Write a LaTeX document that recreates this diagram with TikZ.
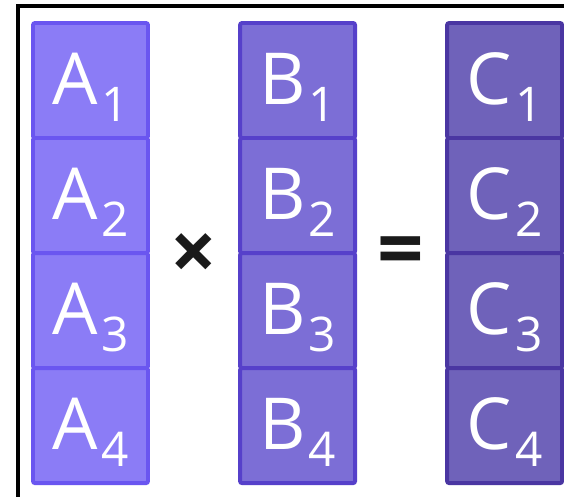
\documentclass[tikz,border=0pt]{standalone}
\usepackage{fontspec}
\setmainfont{Open Sans}
\usetikzlibrary{positioning}
\definecolor{afill}{RGB}{139,124,246}
\definecolor{adraw}{RGB}{106,86,240}
\definecolor{bfill}{RGB}{124,110,214}
\definecolor{bdraw}{RGB}{86,64,202}
\definecolor{cfill}{RGB}{111,98,186}
\definecolor{cdraw}{RGB}{74,54,162}
\definecolor{opblack}{RGB}{26,26,26}
\newcommand{\vecsub}[2]{#1\kern0.08cm\raisebox{-0.42cm}{\fontsize{34pt}{34pt}\selectfont #2}}
\tikzset{
  cell/.style={draw,rectangle,line width=2.8pt,rounded corners=1.5pt,minimum width=2.875cm,minimum height=2.875cm,
    inner sep=0pt,outer sep=0pt,text=white,font=\fontsize{51pt}{51pt}\selectfont,text height=1.3cm,text depth=0.1cm},
  acell/.style={cell,fill=afill,draw=adraw},
  bcell/.style={cell,fill=bfill,draw=bdraw},
  ccell/.style={cell,fill=cfill,draw=cdraw},
  op/.style={text=opblack,font=\fontsize{58pt}{58pt}\selectfont\bfseries,yshift=-3pt}
}
\begin{document}
\begin{tikzpicture}[x=0.025cm,y=-0.025cm]
  \useasboundingbox (0,0) rectangle (564,496);
  \clip (0,0) rectangle (564,496);
  \draw[line width=2.6pt] (18,6) rectangle (620,560);

  % left vector
  \node[acell] (a1) at (90.5,80.5) {\vecsub{A}{1}};
  \node[acell, below=0pt of a1] (a2) {\vecsub{A}{2}};
  \node[acell, below=0pt of a2] (a3) {\vecsub{A}{3}};
  \node[acell, below=0pt of a3] (a4) {\vecsub{A}{4}};

  % middle vector
  \node[bcell, right=2.3cm of a1] (b1) {\vecsub{B}{1}};
  \node[bcell, below=0pt of b1] (b2) {\vecsub{B}{2}};
  \node[bcell, below=0pt of b2] (b3) {\vecsub{B}{3}};
  \node[bcell, below=0pt of b3] (b4) {\vecsub{B}{4}};

  % result vector
  \node[ccell, right=2.3cm of b1] (c1) {\vecsub{C}{1}};
  \node[ccell, below=0pt of c1] (c2) {\vecsub{C}{2}};
  \node[ccell, below=0pt of c2] (c3) {\vecsub{C}{3}};
  \node[ccell, below=0pt of c3] (c4) {\vecsub{C}{4}};

  \path (a2.south east) -- (b2.south west) node[op,midway] (times) {×};
  \path (b2.south east) -- (c2.south west) node[op,midway] (equals) {=};
\end{tikzpicture}
\end{document}
